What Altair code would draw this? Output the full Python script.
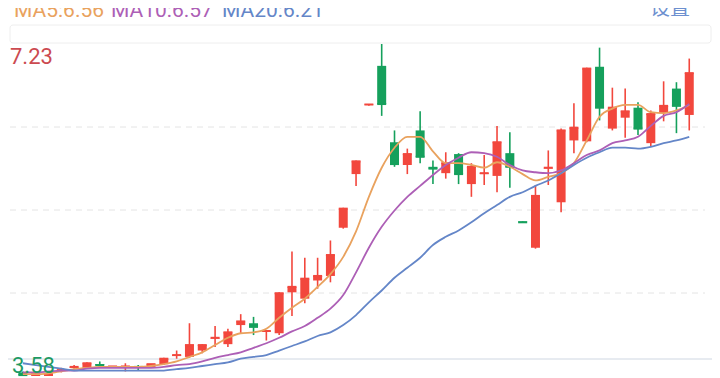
import altair as alt
import pandas as pd

# ---- data (prices) ----
opens = [3.62, 3.58, 3.58, 3.64, 3.67, 3.67, 3.71, 3.68, 3.68, 3.685,
         3.68, 3.71, 3.80, 3.79, 3.86, 3.99, 3.93, 4.14, 4.16, 4.07,
         4.05, 4.50, 4.43, 4.63, 4.68, 5.21, 5.80, 6.56, 6.99, 6.15,
         5.90, 6.28, 5.88, 5.81, 6.02, 5.69, 5.80, 5.78, 6.03, 5.28,
         4.99, 5.86, 5.49, 6.17, 6.16, 6.98, 6.30, 6.42, 6.53, 6.14,
         6.47, 6.74, 6.45]
closes = [3.59, 3.60, 3.60, 3.645, 3.68, 3.72, 3.70, 3.685, 3.685, 3.68,
          3.71, 3.77, 3.81, 3.92, 3.92, 4.00, 4.06, 4.18, 4.12, 4.075,
          4.49, 4.56, 4.65, 4.68, 4.91, 5.42, 5.94, 6.565, 6.57, 5.91,
          6.02, 5.99, 5.86, 5.92, 5.80, 5.88, 5.81, 6.15, 5.88, 5.27,
          5.56, 5.87, 6.28, 6.31, 6.96, 6.53, 6.53, 6.49, 6.30, 6.46,
          6.55, 6.55, 6.91]
highs = [3.63, 3.61, 3.61, 3.67, 3.70, 3.73, 3.74, 3.69, 3.72, 3.70,
         3.71, 3.78, 3.86, 4.16, 3.93, 4.13, 4.10, 4.26, 4.23, 4.08,
         4.50, 4.95, 4.88, 4.88, 5.07, 5.43, 5.95, 6.57, 7.23, 6.28,
         6.08, 6.49, 5.95, 6.04, 6.03, 5.92, 6.01, 6.33, 6.26, 5.28,
         5.68, 6.06, 6.30, 6.58, 6.97, 7.19, 6.75, 6.74, 6.59, 6.50,
         6.82, 6.81, 7.07]
lows = [3.58, 3.58, 3.58, 3.62, 3.66, 3.66, 3.67, 3.67, 3.63, 3.64,
        3.67, 3.70, 3.77, 3.78, 3.83, 3.90, 3.90, 4.05, 4.03, 3.97,
        4.03, 4.24, 4.38, 4.54, 4.61, 5.20, 5.67, 6.55, 6.44, 5.88,
        5.80, 5.92, 5.69, 5.75, 5.69, 5.55, 5.68, 5.60, 5.65, 5.265,
        4.98, 5.68, 5.38, 6.03, 6.15, 6.39, 6.28, 6.20, 6.23, 6.11,
        6.38, 6.25, 6.28]
ma5 = [3.60, 3.60, 3.61, 3.63, 3.655, 3.67, 3.68, 3.68, 3.68, 3.68,
       3.69, 3.71, 3.74, 3.79, 3.84, 3.92, 4.00, 4.05, 4.06, 4.10,
       4.22, 4.33, 4.43, 4.56, 4.70, 4.89, 5.17, 5.55, 5.87, 6.09,
       6.21, 6.21, 6.05, 5.92, 5.92, 5.90, 5.87, 5.93, 5.88, 5.80,
       5.73, 5.77, 5.81, 5.92, 6.17, 6.43, 6.52, 6.56, 6.56, 6.48,
       6.47, 6.50, 6.56]
ma10 = [3.62, 3.62, 3.63, 3.64, 3.64, 3.66, 3.67, 3.67, 3.67, 3.67,
        3.67, 3.68, 3.70, 3.71, 3.74, 3.78, 3.81, 3.84, 3.89, 3.94,
        4.00, 4.07, 4.13, 4.22, 4.32, 4.47, 4.72, 4.99, 5.22, 5.40,
        5.55, 5.67, 5.79, 5.90, 5.98, 6.04, 6.03, 5.99, 5.90, 5.84,
        5.82, 5.81, 5.84, 5.92, 6.01, 6.06, 6.14, 6.17, 6.21, 6.33,
        6.44, 6.48, 6.57]
ma20 = [3.72, 3.70, 3.68, 3.66, 3.64, 3.64, 3.64, 3.64, 3.64, 3.64,
        3.64, 3.64, 3.655, 3.67, 3.69, 3.71, 3.73, 3.77, 3.79, 3.81,
        3.86, 3.91, 3.96, 4.02, 4.06, 4.14, 4.25, 4.39, 4.52, 4.66,
        4.77, 4.88, 5.02, 5.11, 5.18, 5.27, 5.37, 5.46, 5.55, 5.60,
        5.67, 5.73, 5.81, 5.90, 5.98, 6.04, 6.09, 6.09, 6.08, 6.10,
        6.14, 6.17, 6.21]
ma_names = ["MA5", "MA10", "MA20"]
ma_labels = ["MA5:6.56", "MA10:6.57", "MA20:6.21"]
ma_colors = ["#e9a25e", "#ad5fb6", "#6486c8"]
price_max = 7.23
price_min = 3.58
settings_label = "设置"

RED = "#f2473d"
GREEN = "#15a05c"

W, H = 704, 370

n = len(opens)
df = pd.DataFrame({
    "i": list(range(n)),
    "open": opens, "close": closes, "high": highs, "low": lows,
})
df["dir"] = ["up" if c >= o else "down" for o, c in zip(opens, closes)]

ma_df = pd.DataFrame({
    "i": list(range(n)) * 3,
    "ma": sum([[m] * n for m in ma_names], []),
    "v": ma5 + ma10 + ma20,
})

xs = alt.Scale(domain=[-10 / 13, 694 / 13], nice=False, zero=False)
ys = alt.Scale(domain=[3.558, 7.626], nice=False, zero=False)
dir_color = alt.Color("dir:N", scale=alt.Scale(domain=["up", "down"], range=[RED, GREEN]), legend=None)

base = alt.Chart(df)
X = alt.X("i:Q", scale=xs, axis=None)

one = pd.DataFrame({"a": [0]})

box = alt.Chart(one).mark_rect(fill="white", stroke="#eeeeee", strokeWidth=1, cornerRadius=3).encode(
    x=alt.value(2), x2=alt.value(703), y=alt.value(17), y2=alt.value(35))

grid_vals = [price_max - (price_max - price_min) * k / 4 for k in (1, 2, 3)]
grid = alt.Chart(pd.DataFrame({"p": grid_vals})).mark_rule(
    strokeDash=[6, 5], color="#e4e4e4", strokeWidth=1).encode(
    y=alt.Y("p:Q", scale=ys, axis=None), x=alt.value(2), x2=alt.value(697))

baseline = alt.Chart(one).mark_rule(color="#cfd7e2", strokeWidth=1).encode(
    y=alt.value(351), x=alt.value(0), x2=alt.value(704))

wicks = base.mark_rule(strokeWidth=1.6).encode(
    x=X, y=alt.Y("low:Q", scale=ys, axis=None), y2="high:Q", color=dir_color)
bodies = base.mark_bar(width=9).encode(
    x=X, y=alt.Y("open:Q", scale=ys, axis=None), y2="close:Q", color=dir_color)
ticks = base.mark_rule(strokeWidth=2, xOffset=-4.5, x2Offset=4.5).encode(
    x=X, x2="i:Q", y=alt.Y("close:Q", scale=ys, axis=None), color=dir_color)

lines = alt.Chart(ma_df).mark_line(strokeWidth=1.8, interpolate="monotone").encode(
    x=X, y=alt.Y("v:Q", scale=ys, axis=None),
    color=alt.Color("ma:N", scale=alt.Scale(domain=ma_names, range=ma_colors), legend=None),
    detail="ma:N")

hi_lbl = alt.Chart(pd.DataFrame({"p": [price_max], "t": [f"{price_max:.2f}"]})).mark_text(
    align="left", baseline="top", fontSize=22, font="Roboto", color="#cc4a50", dy=3).encode(
    x=alt.value(2), y=alt.Y("p:Q", scale=ys), text="t:N")
lo_lbl = alt.Chart(pd.DataFrame({"p": [price_min], "t": [f"{price_min:.2f}"]})).mark_text(
    align="left", baseline="alphabetic", fontSize=22, font="Roboto", color="#1d9a63", dy=-3).encode(
    x=alt.value(4), y=alt.Y("p:Q", scale=ys), text="t:N")

lbl_x = [6, 103, 214]
top_txts = []
for lbl, col, xp in zip(ma_labels, ma_colors, lbl_x):
    top_txts.append(alt.Chart(pd.DataFrame({"t": [lbl]})).mark_text(
        align="left", baseline="alphabetic", fontSize=21, font="Roboto", color=col).encode(
        x=alt.value(xp), y=alt.value(9), text="t:N"))
set_txt = alt.Chart(pd.DataFrame({"t": [settings_label]})).mark_text(
    align="left", baseline="alphabetic", fontSize=20, font="Noto Sans CJK SC", color="#6d8fcf").encode(
    x=alt.value(642), y=alt.value(7), text="t:N")

chart = alt.layer(box, grid, baseline, wicks, bodies, ticks, lines, hi_lbl, lo_lbl, *top_txts, set_txt).properties(
    width=W, height=H, autosize=alt.AutoSizeParams(type="none"), padding=0,
    background="white"
).resolve_scale(color="independent").configure_view(stroke=None)

chart.save("out.html", embed_options={"renderer": "svg", "actions": False})
